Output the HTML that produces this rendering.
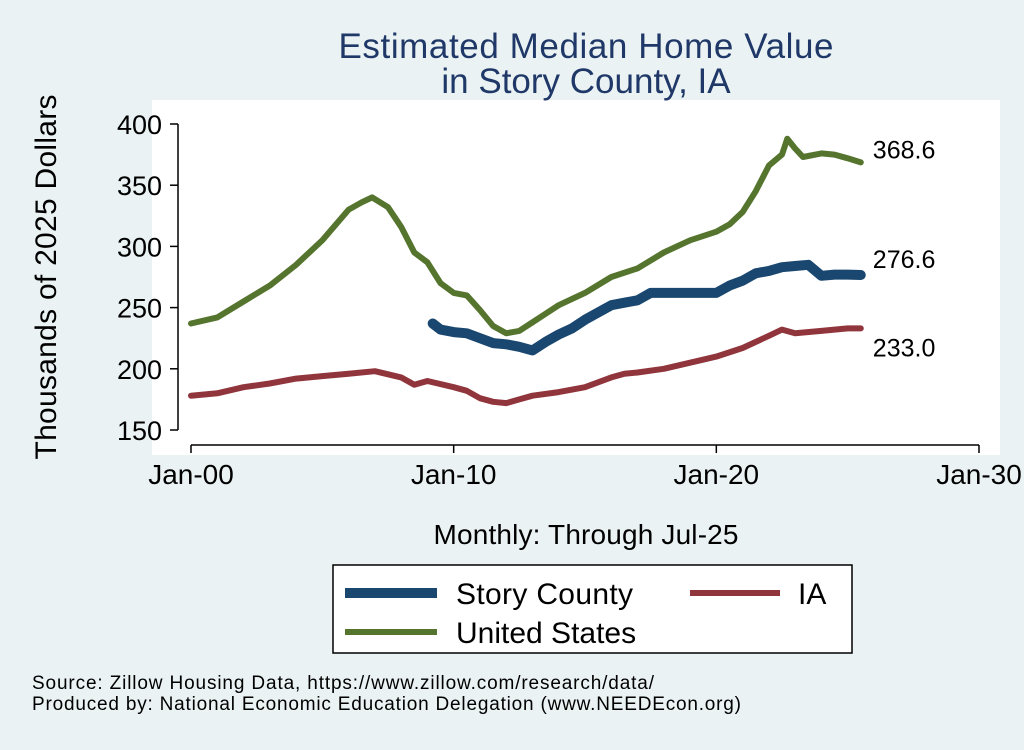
<!DOCTYPE html>
<html><head><meta charset="utf-8"><style>
body{margin:0;background:#eaf2f3;}
svg text{font-family:"Liberation Sans",Arial,sans-serif;}
</style></head><body>
<svg width="1024" height="745" viewBox="0 0 1024 745">
<rect width="1024" height="745" fill="#eaf2f3"/>
<rect x="152" y="100" width="848" height="355" fill="#ffffff"/>
<text x="586" y="58" font-size="35" fill="#1f3868" text-anchor="middle" textLength="495">Estimated Median Home Value</text>
<text x="586" y="93" font-size="35" fill="#1f3868" text-anchor="middle">in Story County, IA</text>
<text transform="translate(56,277) rotate(-90)" font-size="30" text-anchor="middle" fill="#000" textLength="365">Thousands of 2025 Dollars</text>
<text x="586" y="544" font-size="28" text-anchor="middle" fill="#000" textLength="305">Monthly: Through Jul-25</text>
<g id="axes"></g>
<g id="series"></g>
<g>
<rect x="333" y="565" width="519" height="88" fill="#fff" stroke="#000" stroke-width="1.5"/>
<line x1="345" y1="593" x2="437" y2="593" stroke="#1a476f" stroke-width="10"/>
<text x="456" y="604" font-size="30" textLength="177">Story County</text>
<line x1="690" y1="593" x2="780" y2="593" stroke="#90353b" stroke-width="6"/>
<text x="798" y="604" font-size="30">IA</text>
<line x1="345" y1="632" x2="437" y2="632" stroke="#55752f" stroke-width="6"/>
<text x="456" y="643" font-size="30">United States</text>
</g>
<text x="32" y="689" font-size="19" textLength="622">Source: Zillow Housing Data, https://www.zillow.com/research/data/</text>
<text x="32" y="710" font-size="19" textLength="709">Produced by: National Economic Education Delegation (www.NEEDEcon.org)</text>
</svg>
<script>
const yTicks=[150,200,250,300,350,400];
const xTicks=[2000,2010,2020,2030];
const xTickLabels=["Jan-00","Jan-10","Jan-20","Jan-30"];
const usYears=[2000,2001,2002,2003,2004,2005,2006,2006.5,2006.9,2007.5,2008,2008.5,2009,2009.5,2010,2010.5,2011,2011.5,2012,2012.5,2013,2013.5,2014,2015,2016,2017,2018,2019,2020,2020.5,2021,2021.5,2022,2022.5,2022.7,2023,2023.3,2024,2024.5,2025,2025.5];
const usVals=[237,242,255,268,285,305,330,336,340,332,316,295,287,270,262,260,248,235,229,231,238,245,252,262,275,282,295,305,312,318,328,345,366,375,388,380,373,376,375,372,368.6];
const storyYears=[2009.2,2009.5,2010,2010.5,2011,2011.5,2012,2012.5,2013,2013.5,2014,2014.5,2015,2015.5,2016,2016.5,2017,2017.5,2018,2019,2020,2020.5,2021,2021.5,2022,2022.5,2023,2023.5,2024,2024.5,2025,2025.5];
const storyVals=[237,232,230,229,225,221,220,218,215,222,228,233,240,246,252,254,256,262,262,262,262,268,272,278,280,283,284,285,276,277,277,276.6];
const iaYears=[2000,2001,2002,2003,2004,2005,2006,2007,2008,2008.5,2009,2010,2010.5,2011,2011.5,2012,2012.5,2013,2014,2015,2016,2016.5,2017,2018,2019,2020,2021,2022,2022.5,2023,2024,2025,2025.5];
const iaVals=[178,180,185,188,192,194,196,198,193,187,190,185,182,176,173,172,175,178,181,185,193,196,197,200,205,210,217,227,232,229,231,233,233];
const NS="http://www.w3.org/2000/svg";
const X=y=>191+(y-2000)*(979-191)/30;
const Y=v=>430-(v-150)*(430-124)/250;
function mk(t,a,p){const e=document.createElementNS(NS,t);for(const k in a)e.setAttribute(k,a[k]);p.appendChild(e);return e;}
const ax=document.getElementById('axes');
const yl=mk('line',{x1:178,y1:Y(150),x2:178,y2:Y(400),stroke:'#000','stroke-width':1.5},ax);


yTicks.forEach(v=>{
 const t=mk('line',{x1:170,y1:Y(v),x2:178,y2:Y(v),stroke:'#000','stroke-width':1.5},ax);
 
 
 const l=mk('text',{x:162,y:Y(v)+10,'font-size':27,'text-anchor':'end'},ax);l.textContent=v;
 
 
});
const xl=mk('line',{x1:X(2000),y1:445,x2:X(2030),y2:445,stroke:'#000','stroke-width':1.5},ax);


xTicks.forEach((v,i)=>{
 const t=mk('line',{x1:X(v),y1:445,x2:X(v),y2:453,stroke:'#000','stroke-width':1.5},ax);
 
 
 const l=mk('text',{x:X(v),y:484,'font-size':28,'text-anchor':'middle'},ax);l.textContent=xTickLabels[i];
 
 
});
const sg=document.getElementById('series');
function line(xs,vs,col,w,name,dy){
 const d=xs.map((x,i)=>(i?'L':'M')+X(x).toFixed(1)+','+Y(vs[i]).toFixed(1)).join(' ');
 const p=mk('path',{d:d,fill:'none',stroke:col,'stroke-width':w,'stroke-linejoin':'round','stroke-linecap':'round'},sg);
 
 
 const last=vs[vs.length-1];
 const t=mk('text',{x:X(xs[xs.length-1])+12,y:Y(last)+dy,'font-size':25},sg);
 t.textContent=last.toFixed(1);
 
 
}
line(iaYears,iaVals,'#90353b',6,'ia-line',28);
line(usYears,usVals,'#55752f',6,'us-line',-4);
line(storyYears,storyVals,'#1a476f',10,'story-county-line',-7);
</script>
</body></html>
